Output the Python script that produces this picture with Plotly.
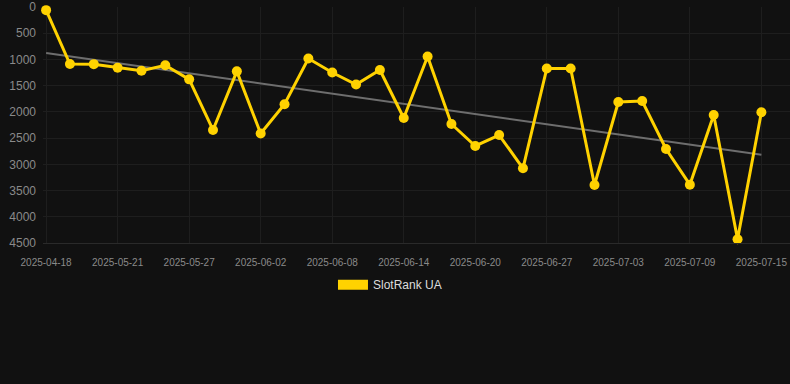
import numpy as np
import plotly.graph_objects as go

dates = ["2025-04-18", "2025-05-17", "2025-05-19", "2025-05-21", "2025-05-23", "2025-05-25",
         "2025-05-27", "2025-05-29", "2025-05-31", "2025-06-02", "2025-06-04", "2025-06-06",
         "2025-06-08", "2025-06-10", "2025-06-12", "2025-06-14", "2025-06-16", "2025-06-18",
         "2025-06-20", "2025-06-22", "2025-06-25", "2025-06-27", "2025-06-29", "2025-07-01",
         "2025-07-03", "2025-07-05", "2025-07-07", "2025-07-09", "2025-07-11", "2025-07-13",
         "2025-07-15"]
ranks = [60, 1087, 1090, 1157, 1215, 1112, 1380, 2345, 1227, 2413, 1855, 982, 1249, 1478,
         1201, 2117, 944, 2231, 2650, 2441, 3076, 1173, 1173, 3394, 1812, 1793, 2708, 3388,
         2059, 4430, 2008]
tick_labels = dates[::3]
series_name = "SlotRank UA"

idx = np.arange(len(ranks))
slope, intercept = np.polyfit(idx, ranks, 1)
trend = slope * idx + intercept

fig = go.Figure()
fig.add_trace(go.Scatter(x=dates, y=trend, mode="lines", line=dict(color="#6e6e6e", width=2),
                         showlegend=False, hoverinfo="skip"))
fig.add_trace(go.Scatter(x=dates, y=ranks, mode="lines+markers", name=series_name,
                         line=dict(color="#FFD200", width=3), cliponaxis=False,
                         marker=dict(color="#FFD200", size=10), showlegend=False))
fig.add_trace(go.Scatter(x=[None], y=[None], mode="lines", name=series_name,
                         line=dict(color="#FFD200", width=12), showlegend=True))

fig.update_layout(
    width=790, height=384,
    paper_bgcolor="#111111", plot_bgcolor="#111111",
    margin=dict(l=43, r=0, t=7, b=141),
    font=dict(family="Liberation Sans, Arial, sans-serif", color="#8a8a8a"),
    xaxis=dict(type="category", categoryorder="array", categoryarray=dates,
               tickmode="array", tickvals=tick_labels, ticktext=tick_labels, tickangle=0,
               range=[-0.13, 31.2], showgrid=True, gridcolor="#1e1e1e", gridwidth=1,
               showline=True, linecolor="#2a2a2a", zeroline=False,
               tickfont=dict(size=10, color="#8a8a8a"), ticks="", ticklen=0,
               ticklabelstandoff=10),
    yaxis=dict(range=[4500, 0], tickvals=[0, 500, 1000, 1500, 2000, 2500, 3000, 3500, 4000, 4500],
               showgrid=True, gridcolor="#1e1e1e", zeroline=False,
               tickfont=dict(size=12, color="#8a8a8a"), ticks="", ticklabelstandoff=6),
    legend=dict(orientation="h", x=0.4645, xanchor="center", y=-0.115, yanchor="top",
                font=dict(size=12, color="#dddddd"), bgcolor="rgba(0,0,0,0)"),
    showlegend=True,
)

fig.write_html("out.html", config={"displayModeBar": False},
               post_script="document.body.style.margin='0';document.body.style.background='#111111';")
